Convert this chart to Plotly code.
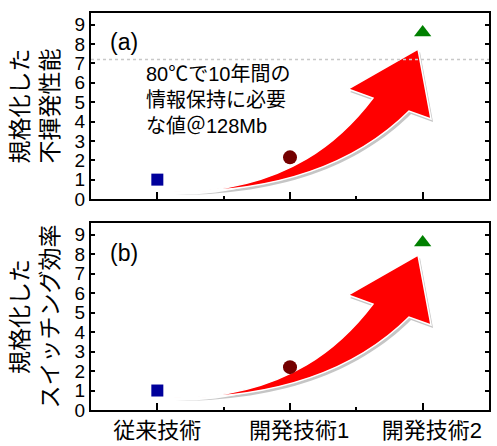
import plotly.graph_objects as go

# ---- data ----
categories = ["従来技術", "開発技術1", "開発技術2"]
cat_pos = [1, 2, 3]
nonvolatile = [1.0, 2.15, 8.6]          # (a) 規格化した不揮発性能
switching = [1.0, 2.2, 8.6]             # (b) 規格化したスイッチング効率
retention_target = 7.2                  # 80℃で10年間の情報保持に必要な値
y_ticks = [0, 1, 2, 3, 4, 5, 6, 7, 8, 9]
marker_symbols = ["square", "circle", "triangle-up"]
marker_colors = ["#00009C", "#740000", "#008000"]
marker_sizes = [12, 14, 15]

W, H = 497, 446
L, R = 91, 489
TOP_A, BOT_A = 13, 199
TOP_B, BOT_B = 223, 410
XR = [0.5, 3.5]
YR = [0, 9.6]

FONT = "Liberation Sans, Arial, Noto Sans CJK JP, sans-serif"

fig = go.Figure()

for vals, xa, ya in [(nonvolatile, "x", "y"), (switching, "x2", "y2")]:
    fig.add_trace(go.Scatter(
        x=cat_pos, y=vals, mode="markers", xaxis=xa, yaxis=ya,
        marker=dict(symbol=marker_symbols, color=marker_colors, size=marker_sizes,
                    opacity=1, line=dict(width=0)),
        showlegend=False, hoverinfo="skip"))

# decorative curved arrow outline (pixel geometry of panel a)
tail = (173, 192)
upper = [(290, 192), (345, 135), (373, 98)]
head = [(348, 89), (418, 49), (431, 119), (409, 111)]
lower_back = [(370, 150), (300, 192), tail]


def arrow_path(T, B, dy, ox=0, oy=0):
    def cv(p):
        px, py = p[0] + ox, p[1] + dy + oy
        x = XR[0] + (px - L) / (R - L) * (XR[1] - XR[0])
        y = YR[0] + (B - py) / (B - T) * (YR[1] - YR[0])
        return f"{x:.4f},{y:.4f}"
    s = "M " + cv(tail)
    s += " C " + " ".join(cv(p) for p in upper)
    for p in head:
        s += " L " + cv(p)
    s += " C " + " ".join(cv(p) for p in lower_back)
    return s + " Z"


for T, B, dy, xr, yr in [(TOP_A, BOT_A, 0, "x", "y"), (TOP_B, BOT_B, 206, "x2", "y2")]:
    fig.add_shape(type="path", path=arrow_path(T, B, dy, 2, 3), xref=xr, yref=yr,
                  fillcolor="rgba(90,90,90,0.35)", line=dict(width=0), layer="below")
    fig.add_shape(type="path", path=arrow_path(T, B, dy), xref=xr, yref=yr,
                  fillcolor="#FF0000", line=dict(color="white", width=1.5), layer="below")

# retention target dotted line
fig.add_shape(type="line", xref="x", yref="y", x0=XR[0], x1=XR[1],
              y0=retention_target, y1=retention_target,
              line=dict(color="#C8C8C8", width=1.5, dash="dot"), layer="below")

fig.add_annotation(xref="paper", yref="paper", x=(108) / W, y=1 - 42 / H,
                   text="(a)", showarrow=False, xanchor="left", yanchor="middle",
                   font=dict(size=23, family=FONT, color="black"))
fig.add_annotation(xref="paper", yref="paper", x=(108) / W, y=1 - 253 / H,
                   text="(b)", showarrow=False, xanchor="left", yanchor="middle",
                   font=dict(size=23, family=FONT, color="black"))
fig.add_annotation(xref="paper", yref="paper", x=144 / W, y=1 - 100 / H,
                   text="80℃で10年間の<br>情報保持に必要<br>な値＠128Mb",
                   showarrow=False, xanchor="left", yanchor="middle", align="left",
                   font=dict(size=20, family=FONT, color="black"))

pad = "\u00a0" * 3
ticktext = [c if not c[-1].isdigit() else pad + c for c in categories]

common_x = dict(range=XR, showgrid=False, zeroline=False, showline=True, mirror=True,
                linecolor="black", linewidth=2, ticks="inside", ticklen=7, tickwidth=1.5,
                tickcolor="black", tickvals=cat_pos,
                minor=dict(ticks="inside", ticklen=3, tickwidth=1.5, dtick=0.5,
                           tick0=0.5, tickcolor="black"),
                domain=[L / W, R / W], automargin=False)
common_y = dict(range=YR, showgrid=False, zeroline=False, showline=True, mirror="ticks",
                linecolor="black", linewidth=2, ticks="inside", ticklen=4, tickwidth=1.5,
                tickcolor="black", tickvals=y_ticks, automargin=False,
                tickfont=dict(size=19, family=FONT, color="black"),
                title_font=dict(size=23, family=FONT, color="black"), title_standoff=10)

fig.update_layout(
    width=W, height=H, margin=dict(l=0, r=0, t=0, b=0),
    paper_bgcolor="white", plot_bgcolor="white",
    xaxis=dict(**common_x, anchor="y", showticklabels=False),
    yaxis=dict(**common_y, anchor="x", domain=[1 - BOT_A / H, 1 - TOP_A / H],
               title_text="規格化した<br>不揮発性能"),
    xaxis2=dict(**common_x, anchor="y2", ticktext=ticktext,
                tickfont=dict(size=22, family=FONT, color="black")),
    yaxis2=dict(**common_y, anchor="x2", domain=[1 - BOT_B / H, 1 - TOP_B / H],
                title_text="規格化した<br>スイッチング効率"),
)

fig.write_html("out.html", config={"displayModeBar": False},
               post_script="document.body.style.margin='0';")
